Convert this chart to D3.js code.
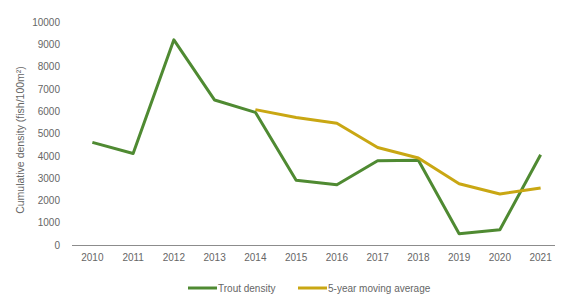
<!DOCTYPE html>
<html>
<head>
<meta charset="utf-8">
<script src="https://cdn.jsdelivr.net/npm/d3@7"></script>
<style>
  body { margin: 0; background: #fff; }
  text { font-family: "Liberation Sans", Arial, sans-serif; }
</style>
</head>
<body>
<div id="chart"></div>
<script>
// data
const years = ["2010", "2011", "2012", "2013", "2014", "2015", "2016", "2017", "2018", "2019", "2020", "2021"];
const trout = [4600, 4100, 9200, 6500, 5950, 2900, 2700, 3780, 3800, 500, 680, 4050];
const movingAvg = [null, null, null, null, 6070, 5720, 5460, 4370, 3900, 2750, 2290, 2560];
const yTicks = [0, 1000, 2000, 3000, 4000, 5000, 6000, 7000, 8000, 9000, 10000];

const width = 561,
    height = 298;

const margin = { top: 22, bottom: 53, left: 72, right: 0 };
const textColor = "#666";

const svg = d3.select("#chart")
    .append("svg")
    .attr("width", width)
    .attr("height", height);

const xScale = d3.scaleBand()
    .domain(years)
    .range([margin.left, width - margin.right]);

const yScale = d3.scaleLinear()
    .domain([0, 10000])
    .range([height - margin.bottom, margin.top]);

const xMid = d => xScale(d) + xScale.bandwidth() / 2;

// y axis ticks (no line)
const yAxis = svg.append("g")
    .attr("transform", `translate(${margin.left - 9}, 0)`)
    .call(d3.axisLeft(yScale).tickValues(yTicks).tickSize(0).tickFormat(d3.format("d")));
yAxis.select(".domain").remove();
yAxis.selectAll("text")
    .attr("fill", textColor)
    .style("font-size", "10px");

// x axis
const xAxis = svg.append("g")
    .attr("transform", `translate(0, ${height - margin.bottom})`)
    .call(d3.axisBottom(xScale).tickSize(0).tickPadding(9));
xAxis.select(".domain").attr("stroke", "#8c8c8c").attr("stroke-width", 1.2)
    .attr("d", `M${margin.left},0.5H${width - 6}`);
xAxis.selectAll("text")
    .attr("fill", textColor)
    .style("font-size", "10px");

// y label
svg.append("text")
    .attr("transform", "rotate(-90)")
    .attr("x", -140)
    .attr("y", 24)
    .attr("text-anchor", "middle")
    .attr("fill", textColor)
    .style("font-size", "10.5px")
    .text("Cumulative density (fish/100m²)");

const line = d3.line()
    .defined(d => d.v != null)
    .x(d => xMid(d.year))
    .y(d => yScale(d.v));

const troutColor = "#4f8a32",
    avgColor = "#c9a713";

svg.append("path")
    .datum(years.map((y, i) => ({ year: y, v: trout[i] })))
    .attr("fill", "none")
    .attr("stroke", troutColor)
    .attr("stroke-width", 3)
    .attr("stroke-linejoin", "round")
    .attr("d", line);

svg.append("path")
    .datum(years.map((y, i) => ({ year: y, v: movingAvg[i] })))
    .attr("fill", "none")
    .attr("stroke", avgColor)
    .attr("stroke-width", 3)
    .attr("stroke-linejoin", "round")
    .attr("d", line);

// legend
const legendItems = [
    { name: "Trout density", color: troutColor, x: 188 },
    { name: "5-year moving average", color: avgColor, x: 298 }
];
const legend = svg.selectAll(".legend")
    .data(legendItems)
    .enter().append("g")
    .attr("class", "legend")
    .attr("transform", d => `translate(${d.x}, 288)`);

legend.append("line")
    .attr("x1", 0)
    .attr("x2", 29)
    .attr("stroke", d => d.color)
    .attr("stroke-width", 3);

legend.append("text")
    .attr("x", 30)
    .attr("dy", "0.35em")
    .attr("fill", textColor)
    .style("font-size", "10px")
    .text(d => d.name);
</script>
</body>
</html>
